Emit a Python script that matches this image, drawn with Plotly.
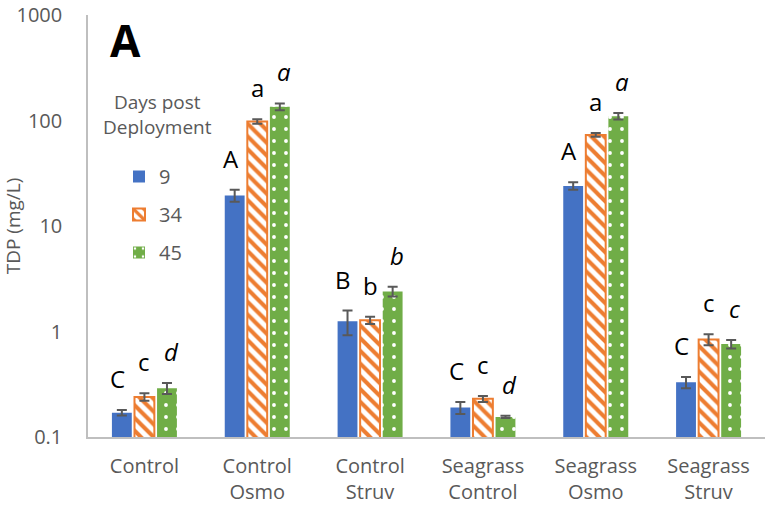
import math
import plotly.graph_objects as go

categories = ["Control", "Control<br>Osmo", "Control<br>Struv", "Seagrass<br>Control", "Seagrass<br>Osmo", "Seagrass<br>Struv"]
days = ["9", "34", "45"]
vals_9 = [0.17, 19.5, 1.25, 0.19, 24.0, 0.33]
vals_34 = [0.24, 98.0, 1.28, 0.23, 73.0, 0.84]
vals_45 = [0.29, 135.0, 2.4, 0.155, 110.0, 0.76]
err_9 = [0.01, 2.5, 0.33, 0.025, 2.0, 0.04]
err_34 = [0.02, 5.0, 0.1, 0.015, 3.0, 0.1]
err_45 = [0.035, 10.0, 0.25, 0.004, 8.0, 0.07]
letters_9 = ["C", "A", "B", "C", "A", "C"]
letters_34 = ["c", "a", "b", "c", "a", "c"]
letters_45 = ["d", "a", "b", "d", "a", "c"]

blue, orange, green = "#4472C4", "#ED7D31", "#70AD47"
errc = "#595959"
grey = "#595959"
font = "Open Sans"

W, H = 768, 513
L, T, B, R = 88, 15, 76, 3
pw, ph = W - L - R, H - T - B

def px(xs):  # screen x -> paper
    return (xs - L) / pw

def py(ys):  # screen y -> paper
    return (H - B - ys) / ph

fig = go.Figure()
fig.add_trace(go.Bar(name=days[0], x=categories, y=vals_9, legendgroup="a",
                     marker=dict(color=blue, line=dict(width=0)),
                     error_y=dict(type="data", array=err_9, color=errc, thickness=2, width=5)))
fig.add_trace(go.Bar(name=days[1], x=categories, y=vals_34, legendgroup="b",
                     marker=dict(color="white", line=dict(color=orange, width=2),
                                 pattern=dict(shape="\\", fgcolor=orange, bgcolor="white",
                                              size=9, solidity=0.45, fillmode="replace")),
                     error_y=dict(type="data", array=err_34, color=errc, thickness=2, width=5)))
fig.add_trace(go.Bar(name=days[2], x=categories, y=vals_45, legendgroup="c",
                     marker=dict(color=green, line=dict(width=0),
                                 pattern=dict(shape=".", fgcolor="white", bgcolor=green,
                                              size=12, solidity=0.08, fillmode="replace")),
                     error_y=dict(type="data", array=err_45, color=errc, thickness=2, width=5)))

# significance letters
offsets = [-1, 0, 1]
series = [(vals_9, err_9, letters_9, False), (vals_34, err_34, letters_34, False),
          (vals_45, err_45, letters_45, True)]
for si, (v, e, lab, ital) in enumerate(series):
    for ci in range(len(categories)):
        txt = f"<i>{lab[ci]}</i>" if ital else lab[ci]
        fig.add_annotation(x=ci + offsets[si] * 0.2367, y=math.log10(v[ci] + e[ci]),
                           xref="x", yref="y", text=txt, showarrow=False,
                           yanchor="bottom", yshift=13,
                           font=dict(family=font, size=24, color="black"))

fig.add_annotation(x=px(125), y=py(40), xref="paper", yref="paper",
                   text="<b>A</b>", showarrow=False, xanchor="center", yanchor="middle",
                   font=dict(family=font, size=44, color="black"))
fig.add_annotation(x=px(157), y=py(114), xref="paper", yref="paper",
                   text="Days post<br>Deployment", showarrow=False, xanchor="center", yanchor="middle",
                   font=dict(family=font, size=19, color=grey))

fig.update_layout(
    width=W, height=H,
    margin=dict(l=L, r=R, t=T, b=B),
    paper_bgcolor="white", plot_bgcolor="white",
    barmode="group", bargap=0.4, bargroupgap=0.12,
    font=dict(family=font, size=19, color=grey),
    showlegend=True,
    legend=dict(x=px(119), y=py(157), xanchor="left", yanchor="top",
                bgcolor="rgba(0,0,0,0)", font=dict(size=20, color=grey),
                traceorder="grouped", tracegroupgap=9, itemwidth=30),
    xaxis=dict(showline=True, linecolor="#BFBFBF", linewidth=1.5, showgrid=False,
               ticks="", automargin=False, ticklabelstandoff=10,
               tickfont=dict(size=20, color=grey)),
    yaxis=dict(type="log", range=[-1, 3], showline=True, linecolor="#BFBFBF", linewidth=1.5,
               showgrid=False, ticks="", automargin=False, tickvals=[0.1, 1, 10, 100, 1000],
               ticktext=["0.1", "1", "10", "100", "1000"], ticklabelstandoff=20,
               ticklabeloverflow="allow",
               tickfont=dict(size=20, color=grey),
               title=dict(text="TDP (mg/L)", font=dict(size=19, color=grey), standoff=4)),
)

fig.write_html("out.html", config={"displayModeBar": False},
               post_script="document.body.style.margin='0';")
